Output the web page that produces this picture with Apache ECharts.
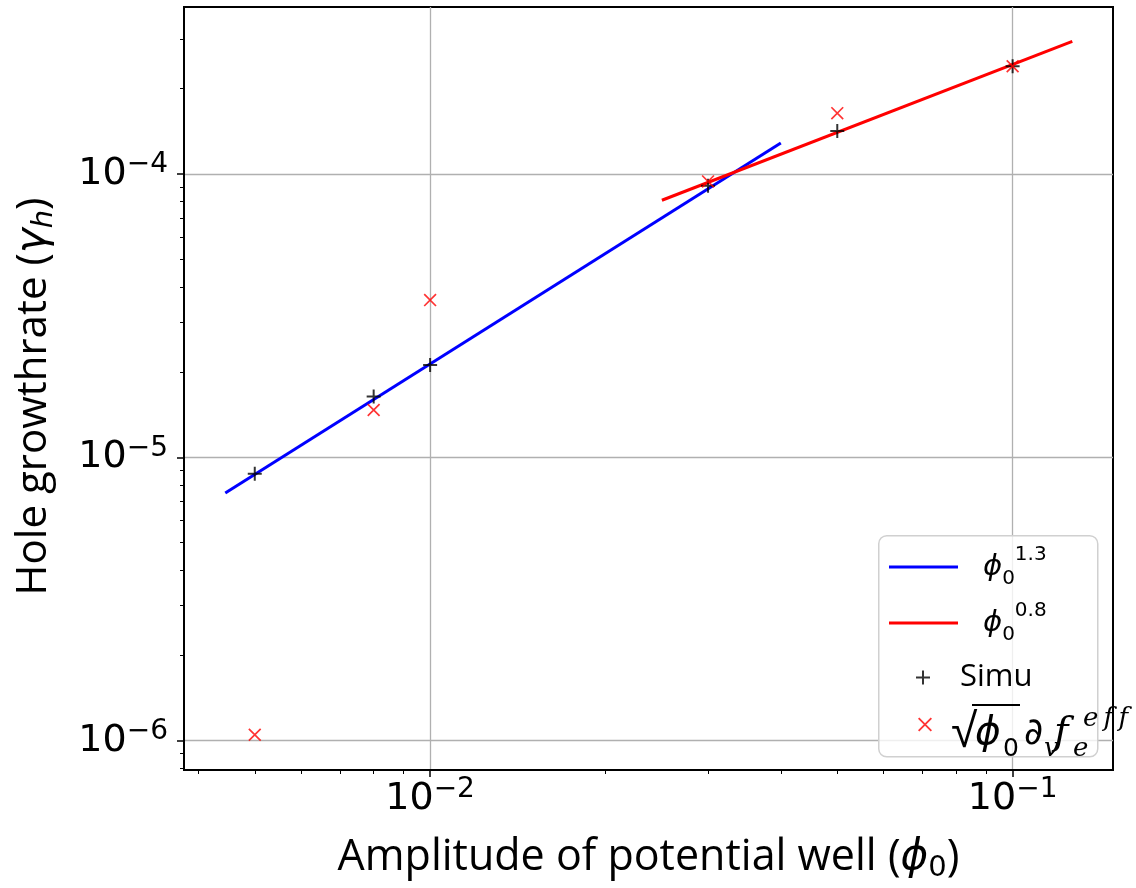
<!DOCTYPE html>
<html><head><meta charset="utf-8">
<script src="https://cdn.jsdelivr.net/npm/echarts@6/dist/echarts.min.js"></script>
<style>html,body{margin:0;padding:0;background:#fff}#c{width:1136px;height:888px}</style>
</head><body><div id="c"></div>
<script>
// ---- data ----
const phiValues    = [0.005, 0.008, 0.01, 0.03, 0.05, 0.1];
const simuValues   = [8.75e-6, 1.64e-5, 2.12e-5, 9.1e-5, 1.42e-4, 2.40e-4];
const theoryValues = [1.05e-6, 1.47e-5, 3.59e-5, 9.42e-5, 1.64e-4, 2.40e-4];
const fit13X = [0.00445, 0.04];
const fit13Y = [7.48e-6, 1.287e-4];
const fit08X = [0.025, 0.1266];
const fit08Y = [8.08e-5, 2.94e-4];
const xMajorTicks = [0.01, 0.1];
const xTickExps   = ['\u22122', '\u22121'];
const xMinorTicks = [0.004,0.005,0.006,0.007,0.008,0.009,0.02,0.03,0.04,0.05,0.06,0.07,0.08,0.09];
const yMajorTicks = [1e-6, 1e-5, 1e-4];
const yTickExps   = ['\u22126', '\u22125', '\u22124'];
const yMinorTicks = [8e-7,9e-7,2e-6,3e-6,4e-6,5e-6,6e-6,7e-6,8e-6,9e-6,2e-5,3e-5,4e-5,5e-5,6e-5,7e-5,8e-5,9e-5,2e-4,3e-4];
const seriesNames = ['fit13', 'fit08', 'Simu', 'theory'];
const seriesLabels = [
  '{phi|\u03d5}{sub|0}{sup|1.3}',
  '{phi|\u03d5}{sub|0}{sup|0.8}',
  '{txt|Simu}',
  '{gap| }{bar| }\n{rad|\u221a}{phi2|\u03d5}{sub2|0}{sp| }{d|\u2202}{subi|v}{fi|f}{subi|e}{supi|e\u2009f\u2009f}'
];
const xTitle = 'Amplitude of potential well ({i|\u03d5}{sub|0})';
const yTitle = 'Hole growthrate ({i|\u03b3}{subi|h})';

const zip = (a, b) => a.map((v, i) => [v, b[i]]);
const expFor = (ticks, exps) => v => {
  const i = ticks.findIndex(t => Math.abs(Math.log10(t) - Math.log10(v)) < 1e-6);
  return '{b|10}{s|' + (i >= 0 ? exps[i] : '') + '}';
};
const labelRich = {
  b: {fontFamily: 'DejaVu Sans', fontSize: 38, lineHeight: 46, color: '#000'},
  s: {fontFamily: 'DejaVu Sans', fontSize: 28, lineHeight: 28, verticalAlign: 'top', color: '#000'}
};
const nameRich = {
  i: {fontFamily: 'DejaVu Sans', fontStyle: 'italic', fontSize: 42, lineHeight: 50, color: '#000'},
  sub: {fontFamily: 'DejaVu Sans', fontSize: 29, lineHeight: 22, verticalAlign: 'bottom', color: '#000'},
  subi: {fontFamily: 'DejaVu Sans', fontStyle: 'italic', fontSize: 29, lineHeight: 22, verticalAlign: 'bottom', color: '#000'}
};
const plusPath = 'path://M0,6 H14 V8 H0 Z M6,0 H8 V14 H6 Z';
const crossPath = 'path://M0,1.2 L1.2,0 L13,11.8 L11.8,13 Z M11.8,0 L13,1.2 L1.2,13 L0,11.8 Z';
const labelMap = {};
seriesNames.forEach((n, i) => labelMap[n] = seriesLabels[i]);
const legendRich = {
  phi: {fontFamily: 'DejaVu Sans', fontStyle: 'italic', fontSize: 29, lineHeight: 44, color: '#000'},
  sub: {fontFamily: 'DejaVu Sans', fontSize: 20, lineHeight: 14, verticalAlign: 'bottom', color: '#000'},
  sup: {fontFamily: 'DejaVu Sans', fontSize: 20, lineHeight: 19, verticalAlign: 'top', color: '#000'},
  txt: {fontFamily: 'Open Sans', fontSize: 31, lineHeight: 44, color: '#000'},
  gap: {fontSize: 2, lineHeight: 2, width: 21},
  bar: {fontSize: 2, lineHeight: 2, height: 2, width: 48, backgroundColor: '#000'},
  rad: {fontFamily: 'Liberation Sans', fontSize: 48, lineHeight: 56, width: 24, color: '#000'},
  phi2: {fontFamily: 'DejaVu Sans', fontStyle: 'italic', fontSize: 39, lineHeight: 56, width: 28, color: '#000'},
  sub2: {fontFamily: 'DejaVu Sans', fontSize: 25, lineHeight: 36, width: 16, verticalAlign: 'bottom', color: '#000'},
  sp: {fontSize: 10, lineHeight: 56, width: 5},
  d: {fontFamily: 'DejaVu Sans', fontSize: 37, lineHeight: 56, width: 20, color: '#000'},
  fi: {fontFamily: 'DejaVu Serif', fontStyle: 'italic', fontSize: 39, lineHeight: 56, width: 19, color: '#000'},
  subi: {fontFamily: 'DejaVu Serif', fontStyle: 'italic', fontSize: 26, lineHeight: 36, width: 10, verticalAlign: 'bottom', color: '#000'},
  supi: {fontFamily: 'DejaVu Serif', fontStyle: 'italic', fontSize: 26, lineHeight: 19, width: 53, verticalAlign: 'top', color: '#000'}
};
function mkLegend(item, left, top, itemWidth, itemHeight, pad) {
  return {
    data: [item], left: left, top: top, padding: 0, orient: 'vertical',
    itemWidth: itemWidth, itemHeight: itemHeight, selectedMode: false, z: 6,
    formatter: n => labelMap[n],
    textStyle: {padding: pad, rich: legendRich}
  };
}

const chart = echarts.init(document.getElementById('c'), null, {renderer: 'canvas'});
chart.setOption({
  animation: false,
  backgroundColor: '#fff',
  grid: {left: 184, right: 23, top: 7, bottom: 112, show: true, borderColor: '#000', borderWidth: 2, backgroundColor: 'transparent'},
  xAxis: [{
    type: 'log', logBase: 10, min: 0.00378, max: 0.1487, position: 'bottom',
    axisLine: {show: true, lineStyle: {color: '#000', width: 2}},
    axisTick: {show: true, customValues: xMajorTicks, length: 7, lineStyle: {color: '#000', width: 1.5}},
    axisLabel: {customValues: xMajorTicks, formatter: expFor(xMajorTicks, xTickExps), rich: labelRich, margin: 6},
    splitLine: {show: true, lineStyle: {color: '#b0b0b0', width: 1.3}},
    minorTick: {show: false}, minorSplitLine: {show: false},
    name: xTitle, nameLocation: 'middle', nameGap: 63,
    nameTextStyle: {fontFamily: 'Open Sans', fontSize: 43, lineHeight: 50, color: '#000', rich: nameRich}
  }, {
    type: 'log', logBase: 10, min: 0.00378, max: 0.1487, position: 'bottom', gridIndex: 0,
    axisLine: {show: false}, axisLabel: {show: false}, splitLine: {show: false},
    axisTick: {show: true, customValues: xMinorTicks, length: 4, lineStyle: {color: '#000', width: 1}}
  }],
  yAxis: [{
    type: 'log', logBase: 10, min: 7.88e-7, max: 3.886e-4, position: 'left',
    axisLine: {show: true, lineStyle: {color: '#000', width: 2}},
    axisTick: {show: true, customValues: yMajorTicks, length: 7, lineStyle: {color: '#000', width: 1.5}},
    axisLabel: {customValues: yMajorTicks, formatter: expFor(yMajorTicks, yTickExps), rich: labelRich, margin: 16},
    splitLine: {show: true, lineStyle: {color: '#b0b0b0', width: 1.3}},
    name: yTitle, nameLocation: 'middle', nameGap: 125, nameRotate: 90,
    nameTextStyle: {fontFamily: 'Open Sans', fontSize: 42, lineHeight: 50, color: '#000', padding: [0, 16, 0, 0], rich: nameRich}
  }, {
    type: 'log', logBase: 10, min: 7.88e-7, max: 3.886e-4, position: 'left', gridIndex: 0,
    axisLine: {show: false}, axisLabel: {show: false}, splitLine: {show: false},
    axisTick: {show: true, customValues: yMinorTicks, length: 4, lineStyle: {color: '#000', width: 1}}
  }],
  legend: [
    mkLegend({name: seriesNames[0], icon: 'rect'}, 889, 545, 69, 3, [0, 0, 0, 20]),
    mkLegend({name: seriesNames[1], icon: 'rect'}, 889, 601, 69, 3, [0, 0, 0, 20]),
    mkLegend({name: seriesNames[2]}, 916, 662, 64, 14, 0),
    mkLegend({name: seriesNames[3]}, 918, 704, 42, 14, [17, 0, 0, 0])
  ],
  graphic: [{
    type: 'rect', z: 5, left: 878, top: 535,
    shape: {width: 219, height: 221, r: 8},
    style: {fill: 'rgba(255,255,255,0.8)', stroke: '#d0d0d0', lineWidth: 1.5}
  }],
  series: [
    {name: seriesNames[0], type: 'line', data: zip(fit13X, fit13Y), symbol: 'none', z: 2,
     color: '#0000ff', lineStyle: {color: '#0000ff', width: 3}},
    {name: seriesNames[1], type: 'line', data: zip(fit08X, fit08Y), symbol: 'none', z: 2,
     color: '#ff0000', lineStyle: {color: '#ff0000', width: 3}},
    {name: seriesNames[2], type: 'scatter', data: zip(phiValues, simuValues), symbol: plusPath,
     symbolSize: 14, symbolKeepAspect: true, z: 3, itemStyle: {color: '#000'}},
    {name: seriesNames[3], type: 'scatter', data: zip(phiValues, theoryValues), symbol: crossPath,
     symbolSize: 13, symbolKeepAspect: true, z: 4, itemStyle: {color: '#ff0000'}}
  ]
});
</script></body></html>
